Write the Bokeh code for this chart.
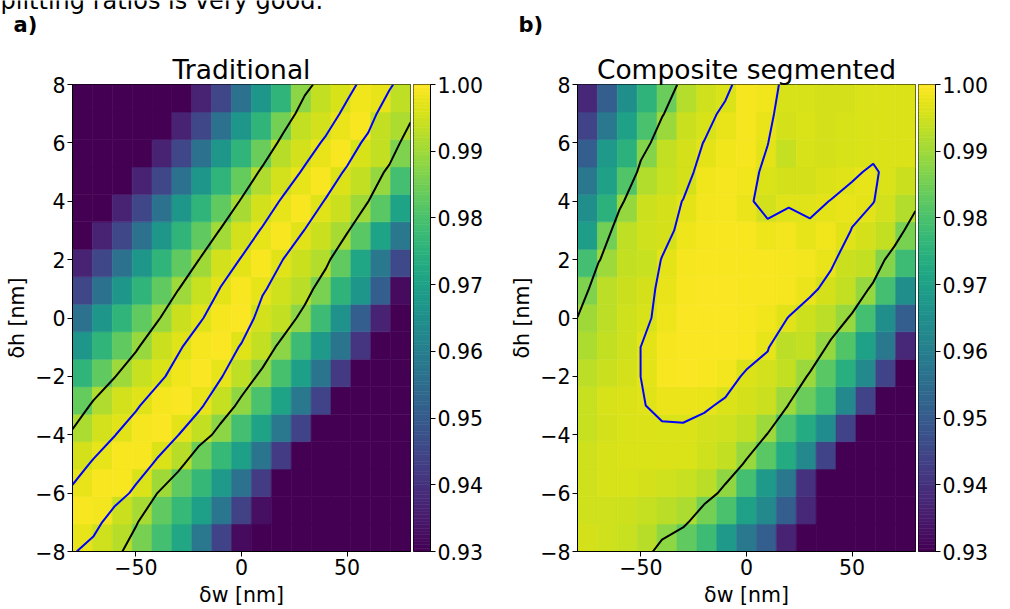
import numpy as np
from bokeh.plotting import figure
from bokeh.layouts import row, column
from bokeh.models import Range1d, FixedTicker, ColumnDataSource, CustomJSTickFormatter
from bokeh.transform import linear_cmap
from bokeh.palettes import Viridis256
from bokeh.core.properties import value
from bokeh.embed import file_html
from bokeh.resources import INLINE

# ---------------- data ----------------
delta_w_nm = [-80, -70, -60, -50, -40, -30, -20, -10, 0, 10, 20, 30, 40, 50, 60, 70, 80]
delta_h_nm = [-8, -7, -6, -5, -4, -3, -2, -1, 0, 1, 2, 3, 4, 5, 6, 7, 8]

# rows: delta_h = -8 ... 8 ; columns: delta_w = -80 ... 80
traditional = [
    [0.9975, 0.995, 0.9925, 0.9856, 0.979, 0.972, 0.958, 0.944, 0.932, 0.925, 0.925, 0.925, 0.925, 0.925, 0.925, 0.925, 0.925],
    [0.9993, 0.9988, 0.9943, 0.9908, 0.9828, 0.977, 0.9695, 0.9575, 0.9435, 0.933, 0.925, 0.925, 0.925, 0.925, 0.925, 0.925, 0.925],
    [0.9976, 0.9993, 0.9992, 0.996, 0.9901, 0.983, 0.9765, 0.968, 0.956, 0.9425, 0.929, 0.925, 0.925, 0.925, 0.925, 0.925, 0.925],
    [0.9955, 0.9974, 0.9992, 0.9993, 0.9964, 0.9925, 0.9842, 0.977, 0.9695, 0.957, 0.9425, 0.929, 0.925, 0.925, 0.925, 0.925, 0.925],
    [0.9915, 0.9952, 0.9969, 0.999, 0.9995, 0.9971, 0.9935, 0.9877, 0.979, 0.9705, 0.958, 0.944, 0.930, 0.925, 0.925, 0.925, 0.925],
    [0.9835, 0.9916, 0.9952, 0.9965, 0.999, 0.9995, 0.9978, 0.9938, 0.9884, 0.980, 0.9705, 0.958, 0.944, 0.929, 0.925, 0.925, 0.925],
    [0.9758, 0.983, 0.9898, 0.9942, 0.996, 0.9985, 0.9995, 0.9974, 0.9934, 0.9885, 0.9795, 0.9695, 0.957, 0.942, 0.927, 0.925, 0.925],
    [0.967, 0.9758, 0.983, 0.9892, 0.9945, 0.9965, 0.999, 0.9995, 0.9966, 0.9935, 0.9877, 0.978, 0.968, 0.957, 0.9405, 0.925, 0.925],
    [0.9565, 0.967, 0.9758, 0.983, 0.9892, 0.9945, 0.9965, 0.999, 0.9995, 0.9953, 0.9935, 0.9877, 0.978, 0.966, 0.951, 0.937, 0.925],
    [0.945, 0.9565, 0.967, 0.9758, 0.983, 0.9898, 0.9942, 0.9971, 0.9994, 0.9975, 0.995, 0.9928, 0.9858, 0.9755, 0.967, 0.951, 0.932],
    [0.937, 0.945, 0.9565, 0.967, 0.9758, 0.983, 0.9901, 0.9952, 0.9972, 0.9994, 0.9969, 0.9945, 0.9918, 0.9828, 0.9715, 0.958, 0.9454],
    [0.925, 0.937, 0.945, 0.9565, 0.967, 0.9758, 0.983, 0.9904, 0.9952, 0.9973, 0.9994, 0.9969, 0.9945, 0.9908, 0.982, 0.9705, 0.958],
    [0.925, 0.925, 0.937, 0.945, 0.9565, 0.967, 0.9758, 0.983, 0.9908, 0.9952, 0.9975, 0.9994, 0.9967, 0.9945, 0.9901, 0.982, 0.9706],
    [0.925, 0.925, 0.925, 0.937, 0.945, 0.9565, 0.967, 0.9758, 0.9835, 0.9916, 0.9952, 0.9975, 0.9993, 0.9964, 0.9935, 0.9888, 0.979],
    [0.925, 0.925, 0.925, 0.925, 0.937, 0.945, 0.9565, 0.967, 0.9758, 0.984, 0.9926, 0.9953, 0.9976, 0.9993, 0.9958, 0.9935, 0.9865],
    [0.925, 0.925, 0.925, 0.925, 0.925, 0.937, 0.945, 0.9565, 0.967, 0.9758, 0.9855, 0.9937, 0.9952, 0.998, 0.9992, 0.9937, 0.9915],
    [0.925, 0.925, 0.925, 0.925, 0.925, 0.925, 0.937, 0.945, 0.9565, 0.967, 0.9758, 0.9878, 0.9935, 0.9958, 0.9985, 0.9978, 0.9934],
]

composite = [
    [0.9955, 0.995, 0.994, 0.9925, 0.9881, 0.983, 0.978, 0.968, 0.958, 0.951, 0.937, 0.925, 0.925, 0.925, 0.925, 0.925, 0.925],
    [0.995, 0.995, 0.9948, 0.9938, 0.9928, 0.9915, 0.9855, 0.980, 0.970, 0.963, 0.951, 0.938, 0.925, 0.925, 0.925, 0.925, 0.925],
    [0.995, 0.9958, 0.9958, 0.9955, 0.995, 0.994, 0.9928, 0.9884, 0.979, 0.968, 0.958, 0.940, 0.925, 0.925, 0.925, 0.925, 0.925],
    [0.995, 0.9958, 0.996, 0.996, 0.9962, 0.996, 0.995, 0.9935, 0.9893, 0.982, 0.973, 0.963, 0.944, 0.928, 0.925, 0.925, 0.925],
    [0.994, 0.9955, 0.996, 0.9962, 0.99615, 0.9963, 0.9952, 0.995, 0.9935, 0.9898, 0.980, 0.973, 0.964, 0.944, 0.928, 0.925, 0.925],
    [0.994, 0.9958, 0.9962, 0.9967, 0.998, 0.998, 0.9976, 0.9963, 0.9955, 0.9945, 0.9898, 0.984, 0.978, 0.963, 0.944, 0.925, 0.925],
    [0.993, 0.9945, 0.9955, 0.99702, 0.9993, 0.9995, 0.9994, 0.9988, 0.9963, 0.9953, 0.9935, 0.9894, 0.982, 0.974, 0.963, 0.944, 0.925],
    [0.9915, 0.9935, 0.995, 0.99703, 0.999, 0.9995, 0.9996, 0.9995, 0.9993, 0.9973, 0.993, 0.9935, 0.9889, 0.981, 0.970, 0.958, 0.938],
    [0.9901, 0.993, 0.995, 0.9958, 0.9982, 0.9995, 0.9996, 0.9995, 0.9993, 0.9985, 0.9969, 0.99467, 0.993, 0.9893, 0.979, 0.965, 0.951],
    [0.9865, 0.993, 0.9945, 0.9955, 0.9977, 0.9993, 0.9995, 0.9995, 0.9994, 0.9993, 0.999, 0.99795, 0.99558, 0.9935, 0.989, 0.979, 0.965],
    [0.979, 0.9897, 0.9935, 0.994, 0.99717, 0.999, 0.9993, 0.9994, 0.9993, 0.9992, 0.999, 0.9988, 0.9978, 0.9945, 0.9935, 0.9871, 0.978],
    [0.969, 0.985, 0.9932, 0.995, 0.9955, 0.9981, 0.999, 0.9993, 0.9992, 0.9982, 0.9988, 0.99728, 0.9985, 0.9969, 0.9955, 0.9935, 0.986],
    [0.965, 0.975, 0.9888, 0.9948, 0.9955, 0.9971, 0.9988, 0.999, 0.9979, 0.9952, 0.9965, 0.9966, 0.99705, 0.9978, 0.9971, 0.9951, 0.992],
    [0.958, 0.970, 0.981, 0.992, 0.994, 0.9955, 0.9985, 0.999, 0.9985, 0.996, 0.9955, 0.9955, 0.9962, 0.9966, 0.9974, 0.9959, 0.9945],
    [0.951, 0.968, 0.975, 0.987, 0.9935, 0.9955, 0.9971, 0.9985, 0.999, 0.9971, 0.9938, 0.9958, 0.9956, 0.9958, 0.996, 0.9962, 0.9962],
    [0.944, 0.958, 0.970, 0.980, 0.9895, 0.9945, 0.9958, 0.9978, 0.999, 0.9977, 0.9954, 0.996, 0.9955, 0.9957, 0.996, 0.9963, 0.9964],
    [0.938, 0.951, 0.965, 0.9755, 0.984, 0.9923, 0.995, 0.996, 0.999, 0.9985, 0.9957, 0.9958, 0.9955, 0.9955, 0.996, 0.9963, 0.9962],
]

contour_levels = [0.99, 0.997]
contour_colors = ["black", "blue"]
color_low = 0.93
color_high = 1.00
cbar_ticks = [0.93, 0.94, 0.95, 0.96, 0.97, 0.98, 0.99, 1.00]
x_ticks = [-50, 0, 50]
y_ticks = [-8, -6, -4, -2, 0, 2, 4, 6, 8]
titles = ["Traditional", "Composite segmented"]
panel_letters = ["a)", "b)"]
caption = "splitting ratios is very good."
x_label = "δw [nm]"
y_label = "δh [nm]"

# ---------------- layout / style ----------------
FONT = "DejaVu Sans"
TICK_SIZE = "20.5px"
HEADER_H = 36
FRAME_W, FRAME_H = 338, 470
LEFT = 72
TOP = 84 - HEADER_H
BOTTOM = 609 - HEADER_H - TOP - FRAME_H
PANEL_H = TOP + FRAME_H + BOTTOM
HEAT_W = LEFT + FRAME_W + 3
CBAR_W = [92, 80]

int_fmt = CustomJSTickFormatter(code="return (tick < 0 ? '\u2212' : '') + Math.abs(tick).toFixed(0);")
dec_fmt = CustomJSTickFormatter(code="return tick.toFixed(2);")


def style_axis(ax):
    ax.major_label_text_font = FONT
    ax.major_label_text_font_size = TICK_SIZE
    ax.major_label_text_color = "black"
    ax.axis_label_text_font = FONT
    ax.axis_label_text_font_size = TICK_SIZE
    ax.axis_label_text_font_style = "normal"
    ax.axis_label_text_color = "black"
    ax.major_tick_out = 5
    ax.major_tick_in = 0
    ax.minor_tick_out = 0
    ax.minor_tick_in = 0
    ax.major_tick_line_color = "black"
    ax.axis_line_color = "black"
    ax.major_label_standoff = 2


def heat_panel(Z, title):
    Z = np.array(Z, dtype=float)
    ny, nx = Z.shape
    x0, x1 = delta_w_nm[0], delta_w_nm[-1]
    y0, y1 = delta_h_nm[0], delta_h_nm[-1]
    cw = (x1 - x0) / nx
    ch = (y1 - y0) / ny
    jj, ii = np.meshgrid(np.arange(nx), np.arange(ny))
    jj = jj.ravel()
    ii = ii.ravel()
    src = ColumnDataSource(dict(
        left=x0 + jj * cw, right=x0 + (jj + 1) * cw,
        bottom=y0 + ii * ch, top=y0 + (ii + 1) * ch,
        v=Z.ravel(),
    ))
    p = figure(width=HEAT_W, height=PANEL_H, title=title,
               x_range=Range1d(x0, x1), y_range=Range1d(y0, y1),
               min_border_left=LEFT, min_border_right=3,
               min_border_top=TOP, min_border_bottom=BOTTOM,
               toolbar_location=None, tools="", output_backend="svg")
    cmap = linear_cmap("v", Viridis256, color_low, color_high)
    p.quad(left="left", right="right", bottom="bottom", top="top", source=src,
           fill_color=cmap, line_color=cmap, line_width=0.6)
    p.contour(x=delta_w_nm, y=delta_h_nm, z=Z, levels=contour_levels,
              line_color=contour_colors, line_width=2)
    p.grid.visible = False
    p.outline_line_color = "black"
    p.outline_line_width = 1
    p.xaxis.ticker = FixedTicker(ticks=x_ticks)
    p.yaxis.ticker = FixedTicker(ticks=y_ticks)
    p.xaxis.formatter = int_fmt
    p.yaxis.formatter = int_fmt
    style_axis(p.xaxis[0])
    style_axis(p.yaxis[0])
    p.xaxis.axis_label = x_label
    p.yaxis.axis_label = y_label
    p.xaxis.axis_label_standoff = 5
    p.yaxis.axis_label_standoff = 3
    p.background_fill_color = "white"
    p.border_fill_color = "white"

    t = p.title
    t.align = "center"
    t.text_font = FONT
    t.text_font_size = "26.5px"
    t.text_font_style = "normal"
    t.text_color = "black"
    props = t.properties()
    if "vertical_align" in props:
        t.vertical_align = "bottom"
    if "standoff" in props:
        t.standoff = 0
    return p


def colorbar_panel(width):
    edges = np.linspace(color_low, color_high, 141)
    src = ColumnDataSource(dict(bottom=edges[:-1], top=edges[1:],
                                v=(edges[:-1] + edges[1:]) / 2))
    p = figure(width=width, height=PANEL_H,
               x_range=Range1d(0, 1), y_range=Range1d(color_low, color_high),
               min_border_left=0, min_border_right=width - 17,
               min_border_top=TOP, min_border_bottom=BOTTOM,
               x_axis_location=None, y_axis_location="right",
               toolbar_location=None, tools="", output_backend="svg")
    cmap = linear_cmap("v", Viridis256, color_low, color_high)
    p.quad(left=0, right=1, bottom="bottom", top="top", source=src,
           fill_color=cmap, line_color=cmap, line_width=0.6)
    p.grid.visible = False
    p.outline_line_color = "black"
    p.outline_line_width = 1
    p.yaxis.ticker = FixedTicker(ticks=cbar_ticks)
    p.yaxis.formatter = dec_fmt
    style_axis(p.yaxis[0])
    p.background_fill_color = "white"
    p.border_fill_color = "white"
    return p


pa = heat_panel(traditional, titles[0])
ca = colorbar_panel(CBAR_W[0])
pb = heat_panel(composite, titles[1])
cb = colorbar_panel(CBAR_W[1])

# header strip with the panel letters and the clipped caption line above
total_w = 2 * HEAT_W + sum(CBAR_W)
hdr = figure(width=total_w, height=HEADER_H,
             x_range=Range1d(0, total_w), y_range=Range1d(HEADER_H, 0),
             min_border=0, x_axis_location=None, y_axis_location=None,
             toolbar_location=None, tools="", output_backend="svg")
hdr.grid.visible = False
hdr.outline_line_color = None
hdr.background_fill_color = "white"
hdr.border_fill_color = "white"
panel_starts = [0, HEAT_W + CBAR_W[0]]
hdr.text(x=[s + 13 for s in panel_starts], y=[24, 24], text=panel_letters,
         text_font=value(FONT), text_font_size=value("21px"), text_font_style="bold",
         text_color="black", text_align="left", text_baseline="alphabetic")
hdr.text(x=[-12.5], y=[0], text=[caption],
         text_font=value(FONT), text_font_size=value("24px"),
         text_color="black", text_align="left", text_baseline="alphabetic")

layout = column(hdr, row(pa, ca, pb, cb))

open("out.html", "w").write(file_html(layout, INLINE))
